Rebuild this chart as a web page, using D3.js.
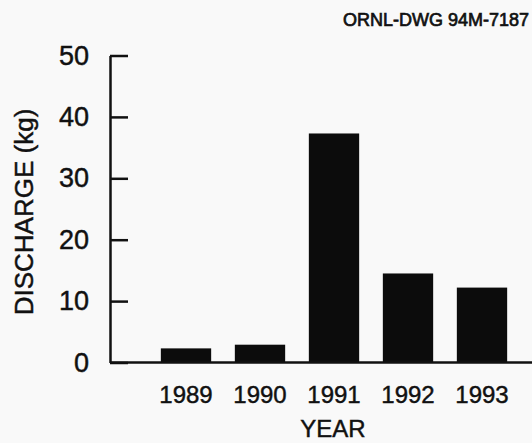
<!DOCTYPE html>
<html>
<head>
<meta charset="utf-8">
<script src="https://cdn.jsdelivr.net/npm/d3@7"></script>
<style>
  body { margin: 0; background: #f9f9f9; }
  svg { display: block; }
  text { font-family: "Liberation Sans", Arial, Helvetica, sans-serif; fill: #111; stroke: #111; stroke-width: 0.45px; }
</style>
</head>
<body>
<div id="chart"></div>
<script>
// values
var years = ["1989", "1990", "1991", "1992", "1993"];
var discharge = [2.3, 2.9, 37.3, 14.5, 12.2];
var yTicks = [0, 10, 20, 30, 40, 50];

var svgWidth = 532;
var svgHeight = 443;

var svg = d3.select("#chart")
  .append("svg")
  .attr("width", svgWidth)
  .attr("height", svgHeight);

var data = years.map(function(y, i) { return {year: y, value: discharge[i]}; });

var xScale = d3.scaleBand()
  .domain(years)
  .range([149, 519])
  .paddingInner(0.32)
  .paddingOuter(0.16);

var yScale = d3.scaleLinear()
  .domain([0, 50])
  .range([362.5, 55.5]);

// bars
svg.selectAll("rect.bar").data(data)
  .enter()
  .append("rect")
  .attr("class", "bar")
  .attr("x", d => xScale(d.year))
  .attr("y", d => yScale(d.value))
  .attr("width", xScale.bandwidth())
  .attr("height", d => yScale(0) - yScale(d.value))
  .style("fill", "#0c0c0c");

// left axis, ticks pointing inward
var leftAxis = d3.axisLeft(yScale)
  .tickValues(yTicks)
  .tickSizeInner(-18)
  .tickSizeOuter(0)
  .tickPadding(21);

var yAxisG = svg.append("g")
  .attr("transform", "translate(110,0)")
  .call(leftAxis);

yAxisG.select(".domain").attr("stroke", "#111").attr("stroke-width", 2.5);
yAxisG.selectAll(".tick line").attr("stroke", "#111").attr("stroke-width", 2.5);
yAxisG.selectAll(".tick text")
  .attr("font-size", "27px");

// baseline running to the right edge
svg.append("line")
  .attr("x1", 110)
  .attr("x2", svgWidth)
  .attr("y1", yScale(0))
  .attr("y2", yScale(0))
  .attr("stroke", "#111")
  .attr("stroke-width", 2.5);

// bottom axis labels only
var bottomAxis = d3.axisBottom(xScale)
  .tickSize(0)
  .tickPadding(23);

var xAxisG = svg.append("g")
  .attr("transform", `translate(0, ${yScale(0)})`)
  .call(bottomAxis);

xAxisG.select(".domain").remove();
xAxisG.selectAll(".tick text")
  .attr("font-size", "24px");

// axis titles
svg.append("text")
  .attr("x", 333)
  .attr("y", 437)
  .attr("text-anchor", "middle")
  .attr("font-size", "24px")
  .text("YEAR");

svg.append("text")
  .attr("transform", "translate(33, 212) rotate(-90)")
  .attr("text-anchor", "middle")
  .attr("font-size", "26px")
  .text("DISCHARGE (kg)");

// drawing number
svg.append("text")
  .attr("x", 529)
  .attr("y", 26)
  .attr("text-anchor", "end")
  .attr("font-size", "18px")
  .style("stroke-width", "0.7px")
  .text("ORNL-DWG 94M-7187");
</script>
</body>
</html>
